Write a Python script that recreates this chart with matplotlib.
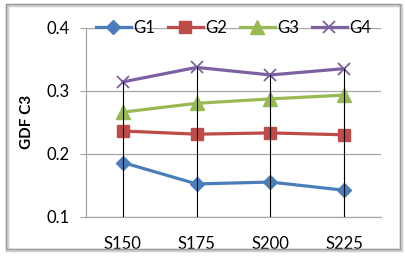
import matplotlib
matplotlib.use("Agg")
import matplotlib.pyplot as plt
from matplotlib.patches import Rectangle

categories = ["S150", "S175", "S200", "S225"]
g1 = [0.186, 0.152, 0.155, 0.142]
g2 = [0.236, 0.231, 0.233, 0.230]
g3 = [0.266, 0.280, 0.287, 0.293]
g4 = [0.314, 0.337, 0.325, 0.335]
series_names = ["G1", "G2", "G3", "G4"]
yticks = [0.1, 0.2, 0.3, 0.4]

plt.rcParams['font.family'] = ['Lato', 'DejaVu Sans']

fig = plt.figure(figsize=(4.06, 2.56), dpi=100)
fig.patch.set_facecolor('white')
# outer frame
fig.patches.append(Rectangle((7/406, 6/256), 394/406, 245/256, transform=fig.transFigure,
                             fill=False, edgecolor='#d0d0d0', linewidth=2.5, zorder=0))
fig.patches.append(Rectangle((6/406, 7/256), 394/406, 245/256, transform=fig.transFigure,
                             fill=False, edgecolor='#9a9a9a', linewidth=1.0, zorder=1))

ax = fig.add_axes([86/406, 1-216.7/256, (381-86)/406, (216.7-27.7)/256])
x = list(range(len(categories)))

styles = [
    dict(color='#4a7ebb', marker='D', markersize=7),
    dict(color='#be4b48', marker='s', markersize=9),
    dict(color='#98b954', marker='^', markersize=10),
    dict(color='#7d60a0', marker='x', markersize=9, markeredgewidth=1.3),
]
for vals, name, st in zip([g1, g2, g3, g4], series_names, styles):
    ax.plot(x, vals, label=name, linewidth=2.3, zorder=3, clip_on=False, **st)

# drop lines from top series to axis
for xi, top in zip(x, g4):
    ax.plot([xi, xi], [yticks[0], top], color='black', linewidth=0.8, zorder=4)

ax.set_xlim(-0.5, len(categories) - 0.5)
ax.set_ylim(yticks[0], yticks[-1])
ax.set_yticks(yticks)
ax.set_yticklabels([f"{v:.1f}" for v in yticks])
ax.set_xticks(x)
ax.set_xticklabels(categories)
ax.grid(axis='y', color='#a6a6a6', linewidth=0.9, zorder=0)
ax.set_axisbelow(True)
for s in ['top', 'right']:
    ax.spines[s].set_visible(False)
for s in ['left', 'bottom']:
    ax.spines[s].set_color('#a6a6a6')
    ax.spines[s].set_linewidth(0.9)
ax.tick_params(axis='y', length=4, color='#a6a6a6', pad=8, labelsize=12)
ax.tick_params(axis='x', length=0, pad=14, labelsize=12)
ax.set_ylabel("GDF C3", fontsize=11, fontweight='bold')
ax.yaxis.set_label_coords(-0.175, 0.5)

leg = ax.legend(loc='center', bbox_to_anchor=(0.5, 1.0), ncol=4, frameon=False,
                fontsize=12, handlelength=2.1, handletextpad=0.15, columnspacing=0.75,
                borderaxespad=0)

fig.savefig("out.png", dpi=100)
